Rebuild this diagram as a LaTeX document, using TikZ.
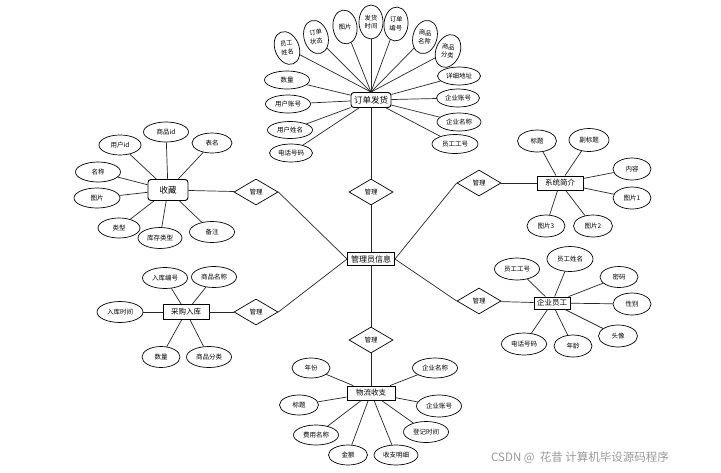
\documentclass[tikz,border=0pt]{standalone}
\usepackage{fontspec}
\setmainfont{Noto Sans CJK SC}
\newfontfamily\cjk{Noto Sans CJK SC}
\usetikzlibrary{shapes.geometric}
\begin{document}
\begin{tikzpicture}[x=1pt,y=-1pt,
  attr/.style={ellipse,draw,line width=0.7pt,inner sep=0pt,minimum width=45pt,minimum height=20pt,font=\cjk\fontsize{6.5}{7}\selectfont},
  tall/.style={ellipse,draw,line width=0.7pt,inner sep=0pt,minimum width=24pt,minimum height=34pt},
  tt/.style={inner sep=0pt,align=center,font=\cjk\fontsize{6.3}{8.8}\selectfont},
  ent/.style={rectangle,draw,line width=0.9pt,inner sep=1pt,minimum width=46pt,minimum height=14pt,font=\cjk\fontsize{7.5}{8}\selectfont},
  rent/.style={ent,rounded corners=3pt,font=\cjk\fontsize{8.5}{9}\selectfont},
  rel/.style={diamond,draw,line width=0.7pt,inner sep=0pt,minimum width=44pt,minimum height=26pt,font=\cjk\fontsize{6.5}{7}\selectfont},
  ln/.style={line width=0.7pt,draw=black!85}]
\useasboundingbox[fill=white] (0,0) rectangle (721,472);

% central entity
\node[ent,minimum width=47pt,minimum height=13pt,font=\cjk\fontsize{8}{9}\selectfont] (adm) at (371,259) {管理员信息};

% 订单发货
\node[rent,minimum width=40pt,minimum height=15pt] (dd) at (371,100) {订单发货};
\node[tall,rotate=22] (t1) at (287,48) {};
\node[tt,rotate=7] (t1x) at (t1) {员工\\姓名};
\node[tall,rotate=16] (t2) at (316,37) {};
\node[tt,rotate=5] (t2x) at (t2) {订单\\状态};
\node[tall,rotate=8] (t3) at (345,27) {};
\node[tt,rotate=3] (t3x) at (t3) {图片};
\node[tall] (t4) at (371,22) {};
\node[tt] (t4x) at (t4) {发货\\时间};
\node[tall,rotate=-5] (t5) at (396,24) {};
\node[tt,rotate=-2] (t5x) at (t5) {订单\\编号};
\node[tall,rotate=-16] (t6) at (425,37) {};
\node[tt,rotate=-5] (t6x) at (t6) {商品\\名称};
\node[tall,rotate=-22] (t7) at (448,51) {};
\node[tt,rotate=-7] (t7x) at (t7) {商品\\分类};
\node[attr,minimum height=18pt] (a1) at (287,80) {数量};
\node[attr,minimum height=18pt] (a2) at (288,104) {用户账号};
\node[attr,minimum height=17pt] (a3) at (290,130) {用户姓名};
\node[attr,minimum height=18pt,minimum width=43pt] (a4) at (291,153) {电话号码};
\node[attr,minimum height=18pt,minimum width=43pt] (a5) at (459,76) {详细地址};
\node[attr,minimum height=18pt,minimum width=43pt] (a6) at (458,98) {企业账号};
\node[attr,minimum height=18pt,minimum width=44pt] (a7) at (459,122) {企业名称};
\node[attr,minimum height=19pt,minimum width=46pt] (a8) at (455,144) {员工工号};
\foreach \n in {t1,t2,t3,t4,t5,t6,t7} \draw[ln] (\n) -- (dd.north);
\foreach \n in {a1,a2,a3,a4,a5,a6,a7,a8} \draw[ln] (\n) -- (dd);

% 收藏
\node[rent,minimum width=40pt,minimum height=21pt] (sc) at (168,190) {收藏};
\node[attr,minimum width=42pt] (s1) at (120,145) {用户id};
\node[attr,minimum width=45pt] (s2) at (166,132) {商品id};
\node[attr,minimum width=40pt] (s3) at (212,143) {表名};
\node[attr,minimum width=45pt] (s4) at (98,172) {名称};
\node[attr,minimum width=46pt] (s5) at (97,198) {图片};
\node[attr,minimum width=42pt] (s6) at (119,228) {类型};
\node[attr,minimum width=44pt,minimum height=21pt] (s7) at (160,238) {库存类型};
\node[attr,minimum width=45pt,minimum height=21pt] (s8) at (212,232) {备注};
\foreach \n in {s1,s2,s3,s4,s5,s6,s7,s8} \draw[ln] (\n) -- (sc);

% 系统简介
\node[ent] (xt) at (560,183) {系统简介};
\node[attr,minimum width=39pt,minimum height=22pt] (x1) at (537,141) {标题};
\node[attr,minimum width=40pt,minimum height=23pt] (x2) at (589,140) {副标题};
\node[attr,minimum width=38pt,minimum height=22pt] (x3) at (632,169) {内容};
\node[attr,minimum width=38pt,minimum height=22pt] (x4) at (632,198) {图片1};
\node[attr,minimum width=39pt,minimum height=22pt] (x5) at (593,226) {图片2};
\node[attr,minimum width=38pt,minimum height=22pt] (x6) at (546,226) {图片3};
\foreach \n in {x1,x2,x3,x4,x5,x6} \draw[ln] (\n) -- (xt);

% 采购入库
\node[ent,minimum height=15pt] (cg) at (186,312) {采购入库};
\node[attr,minimum height=21pt] (c1) at (165,278) {入库编号};
\node[attr,minimum height=21pt] (c2) at (214,277) {商品名称};
\node[attr,minimum height=21pt,minimum width=46pt] (c3) at (120,312) {入库时间};
\node[attr,minimum height=21pt,minimum width=38pt] (c4) at (161,357) {数量};
\node[attr,minimum height=21pt] (c5) at (209,357) {商品分类};
\foreach \n in {c1,c2,c3,c4,c5} \draw[ln] (\n) -- (cg);

% 企业员工
\node[ent,minimum width=36pt,minimum height=12pt] (qy) at (552,303) {企业员工};
\node[attr,minimum height=22pt] (q1) at (517,269) {员工工号};
\node[attr,minimum height=25pt,minimum width=46pt] (q2) at (570,259) {员工姓名};
\node[attr,minimum height=21pt,minimum width=38pt] (q3) at (619,277) {密码};
\node[attr,minimum height=22pt,minimum width=38pt] (q4) at (632,304) {性别};
\node[attr,minimum height=22pt,minimum width=39pt] (q5) at (618,336) {头像};
\node[attr,minimum height=22pt,minimum width=38pt] (q6) at (573,346) {年龄};
\node[attr,minimum height=22pt] (q7) at (524,344) {电话号码};
\foreach \n in {q1,q2,q3,q4,q5,q6,q7} \draw[ln] (\n) -- (qy);

% 物流收支
\node[ent,minimum width=48pt] (wl) at (371,393) {物流收支};
\node[attr,minimum width=38pt] (w1) at (311,368) {年份};
\node[attr,minimum width=39pt] (w2) at (299,405) {标题};
\node[attr] (w3) at (316,435) {费用名称};
\node[attr,minimum width=39pt] (w4) at (348,455) {金额};
\node[attr,minimum width=44pt] (w5) at (396,455) {收支明细};
\node[attr,minimum height=21pt] (w6) at (426,432) {登记时间};
\node[attr,minimum height=22pt] (w7) at (439,406) {企业账号};
\node[attr] (w8) at (435,368) {企业名称};
\foreach \n in {w1,w2,w3,w4,w5,w6,w7,w8} \draw[ln] (\n) -- (wl);

% relationships
\node[rel] (d1) at (371,192) {管理};
\node[rel] (d2) at (256,192) {管理};
\node[rel] (d3) at (256,312) {管理};
\node[rel] (d4) at (479,183) {管理};
\node[rel] (d5) at (479,301) {管理};
\node[rel] (d6) at (371,340) {管理};

\draw[ln] (dd) -- (d1);
\draw[ln] (d1) -- (adm);
\draw[ln] (sc) -- (d2);
\draw[ln] (d2.east) -- (adm.west);
\draw[ln] (cg) -- (d3);
\draw[ln] (d3.east) -- (adm.west);
\draw[ln] (d4.west) -- (adm.east);
\draw[ln] (d4) -- (xt);
\draw[ln] (adm.east) -- (d5.west);
\draw[ln] (d5) -- (qy);
\draw[ln] (adm) -- (d6);
\draw[ln] (d6) -- (wl);

% watermark
\node[anchor=west,inner sep=0pt,text=black!40,font=\cjk\fontsize{11.5}{12}\selectfont] (wm) at (491,458) {CSDN @\ \ 花昔\ 计算机毕设源码程序};
\end{tikzpicture}
\end{document}
